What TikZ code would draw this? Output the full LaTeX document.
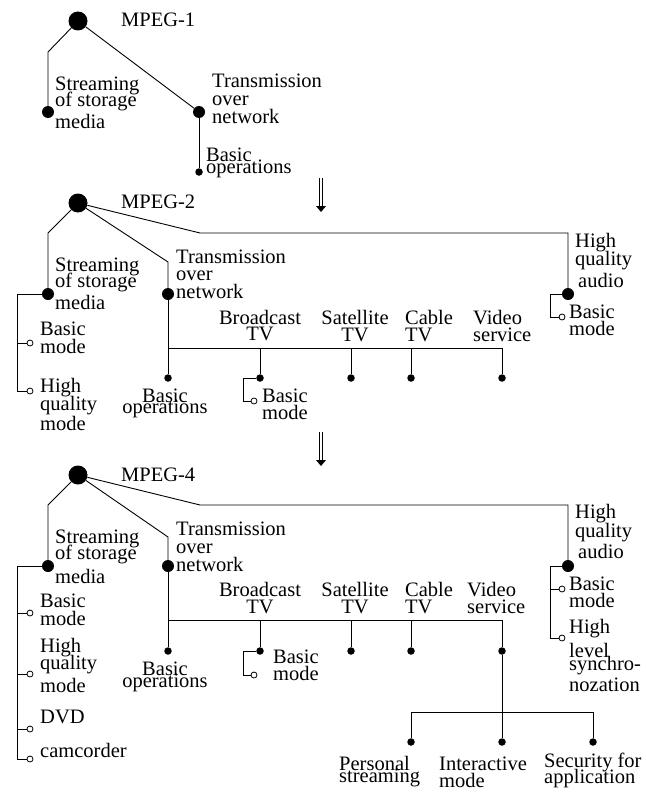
\documentclass[tikz,border=0pt]{standalone}
\usepackage{fontspec}
\setmainfont{Liberation Serif}
\newcommand{\lblfont}{\fontsize{20.5}{17}\selectfont\lineskiplimit=-100pt\relax}
\begin{document}
\begin{tikzpicture}[x=1pt,y=-1pt,
  ln/.style={line width=0.9pt},
  rootdot/.style={circle, fill, inner sep=0pt, minimum size=19pt},
  mdot/.style={circle, fill, inner sep=0pt, minimum size=12pt},
  sdot/.style={circle, fill, inner sep=0pt, minimum size=7.5pt},
  odot/.style={circle, draw, fill=white, inner sep=0pt, minimum size=6pt, line width=0.8pt},
  lbl/.style={inner sep=0pt, align=left, anchor=base west, font=\lblfont},
  clbl/.style={inner sep=0pt, align=center, anchor=base, font=\lblfont}]
\useasboundingbox (0,0) rectangle (645,792);

% ---------------- MPEG-1 ----------------
\node[rootdot] (r1) at (78,21) {};
\node[lbl] (m1) at (121,27) {MPEG-1};
\coordinate (a1) at (48,52);
\node[mdot] (s1) at (48,112) {};
\node[lbl] (s1t) at (55,128) {Streaming\\of storage\\[4pt]media};
\node[mdot] (t1) at (199,112) {};
\node[lbl] (t1t) at (212,123) {Transmission\\[1pt]over\\[1pt]network};
\node[sdot] (b1) at (199,172) {};
\node[lbl] (b1t) at (206,173) {Basic\\[-5pt]operations};
\draw[ln] (r1) -- (a1) -- (s1);
\draw[ln] (r1) -- (t1);
\draw[ln] (t1) -- (b1);

% arrow 1
\draw[line width=0.8pt] (319.6,178) -- (319.6,207);
\draw[line width=0.8pt] (322.4,178) -- (322.4,207);
\fill (316,206) -- (326,206) -- (321,212) -- cycle;

% ---------------- MPEG-2 ----------------
\node[rootdot] (r2) at (78,203) {};
\node[lbl] (m2) at (121,208) {MPEG-2};
\coordinate (a2) at (48,233);
\node[mdot] (s2) at (48,294) {};
\node[lbl] (s2t) at (55,309) {Streaming\\[-1pt]of storage\\[5pt]media};
\coordinate (c2) at (17,294);
\node[odot] (o2a) at (30,343) {};
\node[odot] (o2b) at (30,391) {};
\node[lbl] (o2at) at (40,353) {Basic\\[1pt]mode};
\node[lbl] (o2bt) at (40,430) {High\\[1pt]quality\\[3pt]mode};
\draw[ln] (r2) -- (a2) -- (s2);
\draw[ln] (s2) -- (c2) -- (c2 |- o2b) -- (o2b);
\draw[ln] (c2 |- o2a) -- (o2a);

\coordinate (k2) at (168,262);
\node[mdot] (t2) at (168,294) {};
\node[lbl] (t2t) at (176,298) {Transmission\\over\\[1pt]network};
\node[sdot] (b2) at (168,378) {};
\node[clbl] (b2t) at (165,413) {Basic\\[-6pt]operations};
\draw[ln] (r2) -- (k2) -- (t2);
\draw[ln] (t2) -- (b2);
\coordinate (hr2) at (502,348);
\node[sdot] (bc2) at (260,378) {};
\node[sdot] (sa2) at (351,378) {};
\node[sdot] (ca2) at (411,378) {};
\node[sdot] (vs2) at (502,378) {};
\draw[ln] (t2 |- hr2) -- (hr2) -- (vs2);
\draw[ln] (bc2 |- hr2) -- (bc2);
\draw[ln] (sa2 |- hr2) -- (sa2);
\draw[ln] (ca2 |- hr2) -- (ca2);
\node[clbl] (bc2t) at (260,340) {Broadcast\\[-1pt]TV};
\node[clbl] (sa2t) at (355,341) {Satellite\\TV};
\node[lbl] (ca2t) at (405,341) {Cable\\TV};
\node[lbl] (vs2t) at (473,341) {Video\\service};
\coordinate (g2) at (243,378);
\node[odot] (bo2) at (254,401) {};
\node[lbl] (bo2t) at (262,419) {Basic\\mode};
\draw[ln] (bc2) -- (g2) -- (g2 |- bo2) -- (bo2);

\coordinate (q2) at (200,233);
\coordinate (q2b) at (568,233);
\node[mdot] (ha2) at (568,294) {};
\node[lbl] (ha2t) at (575,287) {High\\[1pt]quality\\[5pt]\hspace{3pt}audio};
\draw[ln] (r2) -- (q2) -- (q2b) -- (ha2);
\coordinate (u2) at (550,294);
\node[odot] (ho2) at (562,317) {};
\node[lbl] (ho2t) at (569,335) {Basic\\mode};
\draw[ln] (ha2) -- (u2) -- (u2 |- ho2) -- (ho2);

% arrow 2
\draw[line width=0.8pt] (319.6,432) -- (319.6,461);
\draw[line width=0.8pt] (322.4,432) -- (322.4,461);
\fill (316,460) -- (326,460) -- (321,466) -- cycle;

% ---------------- MPEG-4 ----------------
\node[rootdot] (r3) at (78,475) {};
\node[lbl] (m3) at (121,481) {MPEG-4};
\coordinate (a3) at (48,505);
\node[mdot] (s3) at (48,566) {};
\node[lbl] (s3t) at (55,583) {Streaming\\[-1pt]of storage\\[7pt]media};
\coordinate (c3) at (17,566);
\node[odot] (o3a) at (30,613) {};
\node[odot] (o3b) at (30,674) {};
\node[odot] (o3c) at (30,729) {};
\node[odot] (o3d) at (30,759) {};
\node[lbl] (o3at) at (40,625) {Basic\\[1pt]mode};
\node[lbl] (o3bt) at (40,692) {High\\quality\\[6pt]mode};
\node[lbl] (o3ct) at (40,723) {DVD};
\node[lbl] (o3dt) at (40,757) {camcorder};
\draw[ln] (r3) -- (a3) -- (s3);
\draw[ln] (s3) -- (c3) -- (c3 |- o3d) -- (o3d);
\draw[ln] (c3 |- o3a) -- (o3a);
\draw[ln] (c3 |- o3b) -- (o3b);
\draw[ln] (c3 |- o3c) -- (o3c);

\coordinate (k3) at (168,537);
\node[mdot] (t3) at (168,566) {};
\node[lbl] (t3t) at (176,571) {Transmission\\[1pt]over\\[1pt]network};
\node[sdot] (b3) at (168,651) {};
\node[clbl] (b3t) at (165,687) {Basic\\[-5pt]operations};
\draw[ln] (r3) -- (k3) -- (t3);
\draw[ln] (t3) -- (b3);
\coordinate (hr3) at (502,620);
\node[sdot] (bc3) at (260,651) {};
\node[sdot] (sa3) at (351,651) {};
\node[sdot] (ca3) at (411,651) {};
\node[sdot] (vs3) at (502,651) {};
\draw[ln] (t3 |- hr3) -- (hr3) -- (vs3);
\draw[ln] (bc3 |- hr3) -- (bc3);
\draw[ln] (sa3 |- hr3) -- (sa3);
\draw[ln] (ca3 |- hr3) -- (ca3);
\node[clbl] (bc3t) at (260,613) {Broadcast\\TV};
\node[clbl] (sa3t) at (355,613) {Satellite\\TV};
\node[lbl] (ca3t) at (405,613) {Cable\\TV};
\node[lbl] (vs3t) at (467,613) {Video\\service};
\coordinate (g3) at (243,651);
\node[odot] (bo3) at (254,675) {};
\node[lbl] (bo3t) at (273,680) {Basic\\mode};
\draw[ln] (bc3) -- (g3) -- (g3 |- bo3) -- (bo3);

\node[sdot] (ps3) at (411,742) {};
\node[sdot] (im3) at (502,742) {};
\node[sdot] (sf3) at (593,742) {};
\coordinate (hv3) at (502,712);
\draw[ln] (vs3) -- (im3);
\draw[ln] (ps3) -- (ps3 |- hv3) -- (sf3 |- hv3) -- (sf3);
\node[lbl] (ps3t) at (339,782) {Personal\\[-5pt]streaming};
\node[lbl] (im3t) at (439,787) {Interactive\\mode};
\node[lbl] (sf3t) at (544,783) {Security for\\[-1pt]application};

\coordinate (q3) at (200,505);
\coordinate (q3b) at (568,505);
\node[mdot] (ha3) at (568,566) {};
\node[lbl] (ha3t) at (575,558) {High\\[2pt]quality\\[4pt]\hspace{3pt}audio};
\draw[ln] (r3) -- (q3) -- (q3b) -- (ha3);
\coordinate (u3) at (550,566);
\node[odot] (ho3a) at (562,589) {};
\node[odot] (ho3b) at (562,638) {};
\node[lbl] (ho3at) at (569,607) {Basic\\mode};
\node[lbl] (ho3bt) at (569,691) {High\\[7pt]level\\[-4pt]synchro-\\[4pt]nozation};
\draw[ln] (ha3) -- (u3) -- (u3 |- ho3b) -- (ho3b);
\draw[ln] (u3 |- ho3a) -- (ho3a);
\end{tikzpicture}
\end{document}
